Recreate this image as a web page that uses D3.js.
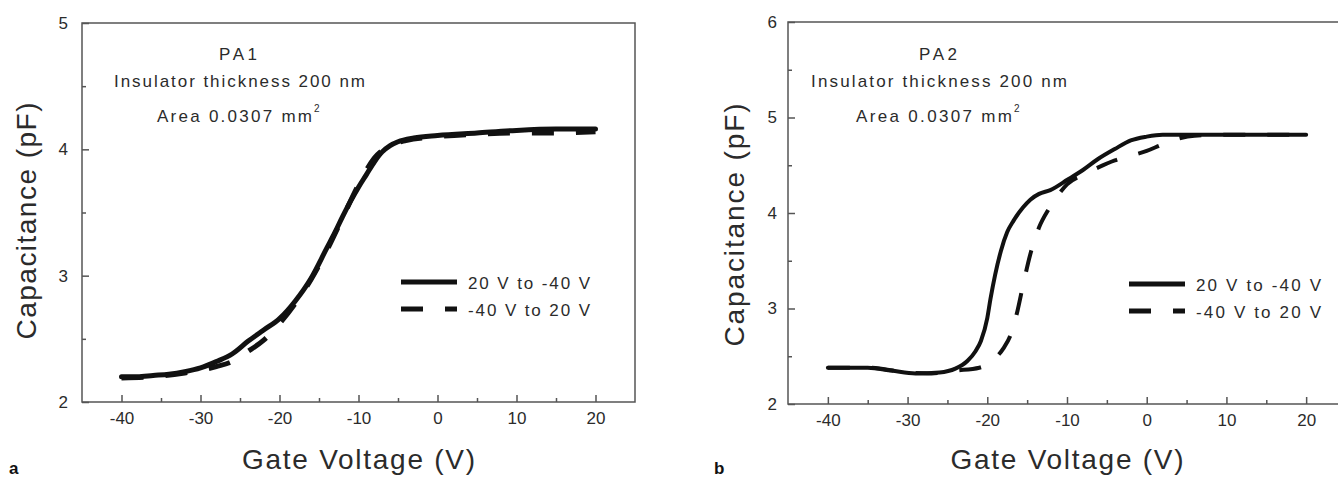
<!DOCTYPE html>
<html>
<head>
<meta charset="utf-8">
<script src="https://cdn.jsdelivr.net/npm/d3@7"></script>
<style>
  body { margin: 0; background: #fff; }
  svg { display: block; font-family: "Liberation Sans", Arial, sans-serif; }
</style>
</head>
<body>
<svg id="chart" width="1338" height="477"></svg>
<script>
// values: [gate voltage (V), capacitance (pF)]
const pa1Down = [[-40,2.2],[-38,2.2],[-36,2.21],[-34,2.22],[-32,2.24],[-30,2.27],[-28,2.32],[-26,2.38],[-24,2.48],[-22,2.57],[-20,2.66],[-18,2.8],[-16,2.98],[-14,3.22],[-13,3.34],[-12,3.47],[-11,3.59],[-10,3.7],[-9,3.8],[-8,3.9],[-7,3.98],[-6,4.03],[-5,4.06],[-3,4.09],[0,4.11],[5,4.13],[10,4.15],[15,4.16],[20,4.16]];
const pa1Up = [[-40,2.19],[-36,2.2],[-32,2.23],[-30,2.25],[-28,2.28],[-26,2.32],[-24,2.4],[-22,2.49],[-20,2.62],[-18,2.78],[-16,2.97],[-14,3.2],[-12,3.46],[-10,3.72],[-8,3.93],[-6,4.03],[-4,4.07],[0,4.1],[5,4.12],[10,4.13],[15,4.13],[20,4.14]];
const pa2Down = [[-40,2.38],[-35,2.38],[-32,2.35],[-29,2.32],[-26,2.33],[-24,2.37],[-22.5,2.45],[-21.5,2.55],[-20.8,2.66],[-20,2.9],[-19.6,3.1],[-18.3,3.6],[-17.5,3.8],[-16.7,3.92],[-15.5,4.06],[-14.6,4.14],[-13.5,4.2],[-12.1,4.24],[-9.9,4.35],[-8,4.45],[-6.2,4.56],[-4,4.67],[-2,4.76],[0,4.8],[2,4.82],[10,4.82],[20,4.82]];
const pa2Up = [[-40,2.38],[-35,2.38],[-30,2.33],[-27,2.32],[-24,2.35],[-21,2.38],[-19,2.48],[-18,2.58],[-17,2.74],[-16.2,2.98],[-15.5,3.25],[-14.5,3.6],[-13.5,3.85],[-12.3,4.04],[-11,4.2],[-10,4.3],[-8,4.4],[-6,4.48],[-4,4.55],[-2,4.6],[0,4.65],[2,4.72],[4,4.78],[6,4.81],[10,4.82],[20,4.82]];

const xTicks = [-40, -30, -20, -10, 0, 10, 20];
const xMinorTicks = [-35, -25, -15, -5, 5, 15];
const pa1YTicks = [2, 3, 4, 5];
const pa1YMinorTicks = [2.5, 3.5, 4.5];
const pa2YTicks = [2, 3, 4, 5, 6];
const pa2YMinorTicks = [2.5, 3.5, 4.5, 5.5];
const legendLabels = ["20 V to -40 V", "-40 V to 20 V"];
const sampleNames = ["PA1", "PA2"];
const noteThickness = "Insulator thickness 200 nm";
const noteArea = "Area 0.0307 mm";

const svg = d3.select("#chart");
const ink = "#111";
const textColor = "#2b2b2b";
const frameColor = "#555";
const plain = d => String(d); // keep ASCII hyphen like the original

function drawPanel(p) {
  const x = d3.scaleLinear().domain([-45, 25]).range([p.left, p.right]);
  const y = d3.scaleLinear().domain(p.yDomain).range([p.bottom, p.top]);
  const g = svg.append("g");

  // frame
  g.append("rect")
    .attr("x", p.left).attr("y", p.top)
    .attr("width", p.right - p.left).attr("height", p.bottom - p.top)
    .attr("fill", "none").attr("stroke", frameColor).attr("stroke-width", 1.5);

  // x axis, ticks pointing inward
  const xAxis = g.append("g").attr("transform", `translate(0,${p.bottom})`)
    .call(d3.axisBottom(x).tickValues(xTicks).tickSize(-7).tickPadding(10).tickFormat(plain));
  xAxis.select(".domain").remove();
  xAxis.selectAll("text").attr("font-size", 17).attr("fill", textColor)
    .attr("font-family", "Liberation Sans, Arial, sans-serif");
  const xMinor = g.append("g").attr("transform", `translate(0,${p.bottom})`)
    .call(d3.axisBottom(x).tickValues(xMinorTicks).tickSize(-4).tickFormat(""));
  xMinor.select(".domain").remove();

  // y axis
  const yAxis = g.append("g").attr("transform", `translate(${p.left},0)`)
    .call(d3.axisLeft(y).tickValues(p.yTicks).tickSize(-7).tickPadding(p.yPad).tickFormat(plain));
  yAxis.select(".domain").remove();
  yAxis.selectAll("text").attr("font-size", 17).attr("fill", textColor)
    .attr("font-family", "Liberation Sans, Arial, sans-serif");
  const yMinor = g.append("g").attr("transform", `translate(${p.left},0)`)
    .call(d3.axisLeft(y).tickValues(p.yMinor).tickSize(-4).tickFormat(""));
  yMinor.select(".domain").remove();
  g.selectAll(".tick line").attr("stroke", frameColor).attr("stroke-width", 1.5);

  // axis titles
  g.append("text")
    .attr("x", (p.left + p.right) / 2).attr("y", 469)
    .attr("text-anchor", "middle").attr("font-size", 28).attr("fill", textColor)
    .attr("textLength", 233).attr("lengthAdjust", "spacing")
    .text("Gate Voltage (V)");
  g.append("text")
    .attr("transform", `translate(${p.yTitleX},${p.yTitleY}) rotate(-90)`)
    .attr("text-anchor", "middle").attr("font-size", 28).attr("fill", textColor)
    .attr("textLength", p.yTitleLen).attr("lengthAdjust", "spacing")
    .text("Capacitance (pF)");

  // panel letter
  g.append("text")
    .attr("x", p.letterX).attr("y", 474)
    .attr("font-size", 17).attr("font-weight", "bold").attr("fill", "#111")
    .text(p.letter);

  // notes
  g.append("text").attr("x", p.noteCx).attr("y", 60)
    .attr("text-anchor", "middle").attr("font-size", 17).attr("fill", textColor)
    .attr("textLength", 38).attr("lengthAdjust", "spacing")
    .text(p.name);
  g.append("text").attr("x", p.thickX).attr("y", 87)
    .attr("font-size", 17).attr("fill", textColor)
    .attr("textLength", p.thickLen).attr("lengthAdjust", "spacing")
    .text(noteThickness);
  g.append("text").attr("x", p.areaX).attr("y", 122)
    .attr("font-size", 17).attr("fill", textColor)
    .attr("textLength", p.areaLen).attr("lengthAdjust", "spacing")
    .text(noteArea);
  g.append("text").attr("x", p.areaX + p.areaLen + 2).attr("y", 112)
    .attr("font-size", 10).attr("fill", textColor)
    .text("2");

  // curves
  const line = d3.line()
    .x(d => x(d[0])).y(d => y(d[1]))
    .curve(d3.curveMonotoneX);
  g.append("path").datum(p.down).attr("d", line)
    .attr("fill", "none").attr("stroke", ink).attr("stroke-width", p.lw)
    .attr("stroke-linejoin", "round").attr("stroke-linecap", "round");
  g.append("path").datum(p.up).attr("d", line)
    .attr("fill", "none").attr("stroke", ink).attr("stroke-width", p.lw)
    .attr("stroke-dasharray", "22,22");

  // legend
  legendLabels.forEach((lab, i) => {
    const ly = p.legY + i * 27;
    g.append("line")
      .attr("x1", p.legX).attr("x2", p.legX + 56)
      .attr("y1", ly).attr("y2", ly)
      .attr("stroke", ink).attr("stroke-width", 5)
      .attr("stroke-dasharray", i === 0 ? null : "22,22");
    g.append("text")
      .attr("x", p.legX + 67).attr("y", ly + 7)
      .attr("font-size", 17).attr("fill", textColor)
      .attr("textLength", p.legLen).attr("lengthAdjust", "spacing")
      .text(lab);
  });
}

drawPanel({
  left: 82, right: 635, top: 23, bottom: 402,
  yDomain: [2, 5], yTicks: pa1YTicks, yMinor: pa1YMinorTicks, yPad: 14,
  yTitleX: 36, yTitleY: 221, yTitleLen: 237,
  letter: "a", letterX: 9,
  name: sampleNames[0], noteCx: 238, thickX: 114, thickLen: 251, areaX: 157, areaLen: 155,
  down: pa1Down, up: pa1Up, lw: 5,
  legX: 401, legY: 282, legLen: 122
});

drawPanel({
  left: 788, right: 1346, top: 22, bottom: 404,
  yDomain: [2, 6], yTicks: pa2YTicks, yMinor: pa2YMinorTicks, yPad: 11,
  yTitleX: 744, yTitleY: 225, yTitleLen: 243,
  letter: "b", letterX: 714,
  name: sampleNames[1], noteCx: 938, thickX: 811, thickLen: 256, areaX: 856, areaLen: 156,
  down: pa2Down, up: pa2Up, lw: 4,
  legX: 1129, legY: 284, legLen: 125
});
</script>
</body>
</html>
